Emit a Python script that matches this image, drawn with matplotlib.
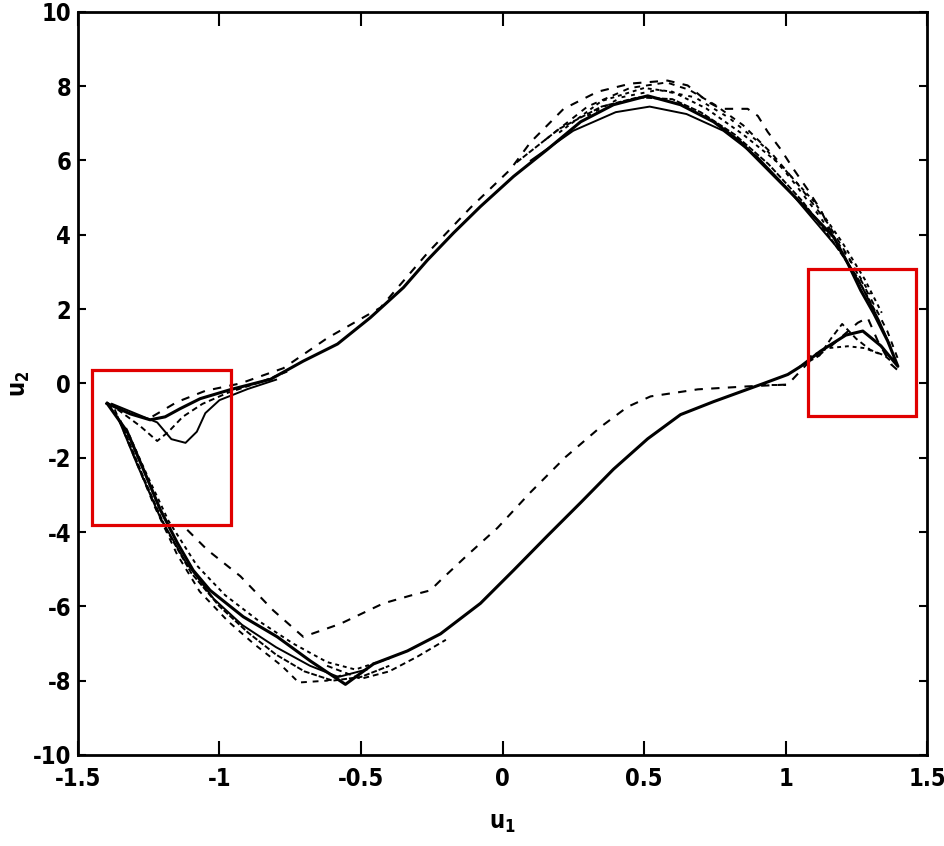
import matplotlib
matplotlib.use("Agg")
import matplotlib.pyplot as plt
from matplotlib import font_manager
from matplotlib.patches import Rectangle

# pick a narrow bold face if one is installed
fonts = font_manager.fontManager.ttflist
names = {f.name for f in fonts}
if 'Liberation Sans Narrow' in names:
    plt.rcParams['font.family'] = ['Liberation Sans Narrow', 'DejaVu Sans']
    fsize = 19
elif any(f.name == 'DejaVu Sans' and f.stretch == 'condensed' for f in fonts):
    plt.rcParams['font.family'] = ['DejaVu Sans']
    plt.rcParams['font.stretch'] = 'condensed'
    fsize = 17
else:
    plt.rcParams['font.family'] = ['Liberation Sans', 'DejaVu Sans']
    fsize = 16
plt.rcParams['font.weight'] = 'bold'
plt.rcParams['axes.unicode_minus'] = False
plt.rcParams['mathtext.fontset'] = 'custom'
plt.rcParams['mathtext.bf'] = plt.rcParams['font.family'][0] + ':bold'

# main limit cycle (solid)
main_u1 = [-1.397, -1.315, -1.245, -1.192, -1.139, -1.068, -0.958, -0.820, -0.704, -0.583,
           -0.467, -0.350, -0.265, -0.173, -0.078, 0.039, 0.159, 0.276, 0.392, 0.513,
           0.629, 0.746, 0.842, 0.937, 1.054, 1.170, 1.220, 1.266, 1.312, 1.361, 1.397,
           1.337, 1.273, 1.213, 1.124, 1.054, 1.008, 0.923, 0.746, 0.629, 0.513, 0.392,
           0.276, 0.159, 0.039, -0.078, -0.219, -0.336, -0.456, -0.555, -0.679, -0.796,
           -0.916, -1.033, -1.093, -1.149, -1.209, -1.269, -1.326, -1.397]
main_u2 = [-0.54, -0.82, -0.98, -0.90, -0.68, -0.41, -0.16, 0.11, 0.60, 1.06,
           1.77, 2.58, 3.32, 4.05, 4.76, 5.57, 6.30, 7.04, 7.50, 7.74,
           7.50, 7.04, 6.49, 5.76, 4.86, 3.94, 3.23, 2.50, 1.88, 1.14, 0.46,
           1.01, 1.41, 1.30, 0.87, 0.46, 0.24, 0.00, -0.49, -0.84, -1.49, -2.31,
           -3.21, -4.10, -5.03, -5.92, -6.74, -7.20, -7.55, -8.10, -7.47, -6.82,
           -6.28, -5.57, -5.03, -4.29, -3.40, -2.31, -1.30, -0.54]

# transient trajectory (dashed)
tr_u1 = [-1.114, -1.043, -0.926, -0.810, -0.704, -0.573, -0.421, -0.325, -0.255, -0.219,
         -0.124, -0.018, 0.099, 0.223, 0.347, 0.442, 0.523, 0.690, 0.866, 1.008,
         1.078, 1.160, 1.255, 1.290, 1.326, 1.372, 1.400]
tr_u2 = [-3.94, -4.48, -5.19, -6.11, -6.82, -6.47, -5.92, -5.71, -5.57, -5.30,
         -4.62, -3.89, -2.93, -1.98, -1.17, -0.63, -0.35, -0.16, -0.08, -0.03,
         0.54, 1.00, 1.63, 1.77, 1.14, 0.52, 0.33]

# outer dashed path over the top and upper S
top_u1 = [1.22, 1.17, 1.124, 1.078, 1.029, 0.983, 0.937, 0.902, 0.866, 0.771, 0.725,
          0.654, 0.583, 0.453, 0.336, 0.216, 0.099, 0.028, -0.113, -0.265, -0.431,
          -0.619, -0.774, -0.926, -1.05, -1.15, -1.25]
top_u2 = [3.23, 3.94, 4.67, 5.22, 5.76, 6.30, 6.77, 7.20, 7.39, 7.39, 7.58,
          8.02, 8.15, 8.07, 7.85, 7.39, 6.49, 5.76, 4.73, 3.51, 2.04,
          1.22, 0.41, 0.0, -0.2, -0.5, -0.95]

# bundle variants near the top / right descent
b1_u1 = [0.10, 0.25, 0.40, 0.52, 0.65, 0.78, 0.90, 1.00, 1.10, 1.20, 1.27, 1.33, 1.37]
b1_u2 = [6.0, 6.8, 7.3, 7.45, 7.25, 6.8, 6.1, 5.3, 4.4, 3.5, 2.6, 1.7, 1.0]
b2_u1 = [0.15, 0.30, 0.45, 0.58, 0.66, 0.75, 0.85, 0.95, 1.05, 1.15, 1.23, 1.30, 1.36, 1.40]
b2_u2 = [6.55, 7.45, 7.95, 8.1, 7.9, 7.5, 6.95, 6.2, 5.3, 4.3, 3.3, 2.3, 1.4, 0.6]
b3_u1 = [0.20, 0.35, 0.50, 0.60, 0.72, 0.85, 0.98, 1.10, 1.20, 1.28, 1.34]
b3_u2 = [6.75, 7.6, 7.95, 7.85, 7.4, 6.7, 5.9, 4.9, 3.8, 2.8, 1.9]
b4_u1 = [0.05, 0.20, 0.35, 0.48, 0.60, 0.70, 0.82, 0.94, 1.06, 1.16, 1.25, 1.32]
b4_u2 = [5.95, 6.85, 7.45, 7.7, 7.65, 7.3, 6.7, 5.9, 4.9, 3.9, 2.9, 1.9]
b5_u1 = [0.30, 0.42, 0.55, 0.68, 0.80, 0.92, 1.02, 1.12, 1.22, 1.30]
b5_u2 = [7.2, 7.7, 7.9, 7.7, 7.15, 6.4, 5.5, 4.5, 3.4, 2.4]

# bundle variants on the left descent and trough
l1_u1 = [-1.37, -1.30, -1.23, -1.15, -1.07, -0.97, -0.88, -0.78, -0.72, -0.62, -0.55]
l1_u2 = [-0.7, -2.0, -3.3, -4.6, -5.6, -6.4, -7.0, -7.6, -8.05, -8.0, -7.8]
l2_u1 = [-1.36, -1.29, -1.21, -1.12, -1.02, -0.92, -0.80, -0.68, -0.58, -0.48]
l2_u2 = [-0.9, -2.2, -3.6, -4.8, -5.8, -6.5, -7.1, -7.6, -7.9, -7.7]
l3_u1 = [-1.33, -1.26, -1.18, -1.08, -0.98, -0.86, -0.74, -0.62, -0.52, -0.40]
l3_u2 = [-1.2, -2.4, -3.7, -4.9, -5.7, -6.4, -7.0, -7.5, -7.7, -7.4]
l4_u1 = [-1.35, -1.27, -1.19, -1.10, -1.00, -0.90, -0.80, -0.70, -0.60, -0.50, -0.40]
l4_u2 = [-1.0, -2.5, -3.9, -5.1, -6.0, -6.7, -7.3, -7.75, -8.0, -7.9, -7.6]
t1_u1 = [-0.62, -0.50, -0.40, -0.30, -0.20]
t1_u2 = [-7.6, -7.95, -7.75, -7.35, -6.9]

# squiggles inside the boxes
s1_u1 = [-1.38, -1.30, -1.22, -1.17, -1.12, -1.08, -1.05, -1.00, -0.90, -0.80]
s1_u2 = [-0.55, -0.8, -1.05, -1.5, -1.6, -1.3, -0.8, -0.45, -0.15, 0.1]
s2_u1 = [-1.36, -1.28, -1.22, -1.18, -1.13, -1.06, -0.97, -0.85, -0.75]
s2_u2 = [-0.7, -1.15, -1.55, -1.3, -0.9, -0.55, -0.25, 0.05, 0.35]
r1_u1 = [1.05, 1.12, 1.16, 1.20, 1.25, 1.30, 1.35, 1.38]
r1_u2 = [0.45, 0.75, 1.2, 1.6, 1.2, 0.9, 0.75, 0.55]
r2_u1 = [1.08, 1.15, 1.22, 1.28, 1.33]
r2_u2 = [0.7, 0.95, 1.0, 0.95, 0.8]
r3_u1 = [0.91, 1.00]
r3_u2 = [-0.03, -0.03]

# highlighted regions (x0, y0, width, height)
boxes = [(-1.45, -3.80, 0.49, 4.15), (1.08, -0.87, 0.38, 3.94)]

fig = plt.figure(figsize=(9.45, 8.46), dpi=100)
ax = fig.add_axes([0.0825, 0.1076, 0.8985, 0.8784])

ax.plot(main_u1, main_u2, color='black', lw=2.2)
ax.plot(tr_u1, tr_u2, color='black', lw=1.5, ls=(0, (4, 4)))
ax.plot(top_u1, top_u2, color='black', lw=1.5, ls=(0, (4, 4)))
for xs, ys, st in [(b1_u1, b1_u2, '-'), (b2_u1, b2_u2, (0, (3, 3))), (b3_u1, b3_u2, (0, (2, 2))),
                   (b4_u1, b4_u2, (0, (3, 1))), (b5_u1, b5_u2, (0, (2, 3))),
                   (l1_u1, l1_u2, (0, (3, 3))), (l2_u1, l2_u2, '-'), (l3_u1, l3_u2, (0, (2, 2))),
                   (l4_u1, l4_u2, (0, (3, 1))),
                   (t1_u1, t1_u2, (0, (3, 2))), (s1_u1, s1_u2, '-'), (s2_u1, s2_u2, (0, (3, 2))),
                   (r1_u1, r1_u2, (0, (3, 2))), (r2_u1, r2_u2, (0, (2, 2))), (r3_u1, r3_u2, (0, (3, 3)))]:
    ax.plot(xs, ys, color='black', lw=1.4, ls=st)

for x0, y0, w, h in boxes:
    ax.add_patch(Rectangle((x0, y0), w, h, fill=False, edgecolor='#e00000', lw=2.3, zorder=5))

ax.set_xlim(-1.5, 1.5)
ax.set_ylim(-10, 10)
ax.set_xticks([-1.5, -1, -0.5, 0, 0.5, 1, 1.5])
ax.set_xticklabels(['-1.5', '-1', '-0.5', '0', '0.5', '1', '1.5'])
ax.set_yticks(range(-10, 11, 2))
ax.tick_params(axis='both', direction='in', top=True, right=True, width=1.5,
               labelsize=fsize, pad=5)
ax.tick_params(axis='x', length=10, pad=9)
ax.tick_params(axis='y', length=6)
for sp in ax.spines.values():
    sp.set_linewidth(2.0)
ax.set_xlabel(r'u$_\mathbf{1}$', fontsize=fsize, fontweight='bold', labelpad=14)
ax.set_ylabel(r'u$_\mathbf{2}$', fontsize=fsize, fontweight='bold')
ax.yaxis.set_label_coords(-0.054, 0.5)

fig.savefig('out.png', dpi=100)
